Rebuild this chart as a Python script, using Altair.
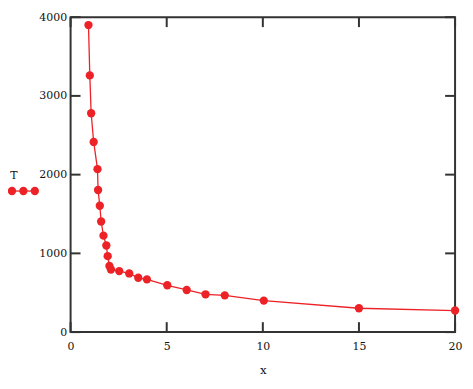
import altair as alt
import pandas as pd

x_vals = [0.93, 1.0, 1.07, 1.2, 1.4, 1.43, 1.52, 1.59, 1.71, 1.86, 1.93, 2.02, 2.1,
          2.53, 3.05, 3.52, 3.97, 5.03, 6.04, 7.02, 8.02, 10.05, 15.0, 20.0]
t_vals = [3900, 3260, 2780, 2415, 2070, 1805, 1605, 1405, 1225, 1100, 965, 840, 795,
          775, 745, 690, 670, 595, 535, 480, 467, 400, 303, 274]
x_ticks = [0, 5, 10, 15, 20]
y_ticks = [0, 1000, 2000, 3000, 4000]

W, H = 387, 317
RED = "#ec2227"
FONT = "DejaVu Serif"
AX = "#333333"

df = pd.DataFrame({"x": x_vals, "T": t_vals})
xt = pd.DataFrame({"v": x_ticks})
yt = pd.DataFrame({"v": y_ticks})

xscale = alt.Scale(domain=[0, 20], nice=False, zero=False)
yscale = alt.Scale(domain=[0, 4000], nice=False)

base = alt.Chart(df)
line = base.mark_line(color=RED, strokeWidth=1.3).encode(
    x=alt.X("x:Q", scale=xscale,
            axis=alt.Axis(values=x_ticks, ticks=False, domain=False, grid=False,
                          format="d", labelPadding=9, labelFlush=False,
                          title="x", titlePadding=13,
                          labelFont=FONT, labelFontSize=11, labelColor="#111",
                          titleFont=FONT, titleFontSize=12, titleFontWeight="normal",
                          titleColor="#111")),
    y=alt.Y("T:Q", scale=yscale,
            axis=alt.Axis(values=y_ticks, ticks=False, domain=False, grid=False,
                          format="d", labelPadding=4, labelFlush=False, title=None,
                          labelFont=FONT, labelFontSize=11, labelColor="#111")),
)
pts = base.mark_circle(color=RED, size=70, opacity=1).encode(x="x:Q", y="T:Q")

xb = alt.Chart(xt).mark_rule(color=AX, strokeWidth=2).encode(
    x=alt.X("v:Q", scale=xscale), y=alt.value(H), y2=alt.value(H - 10))
xtop = alt.Chart(xt).mark_rule(color=AX, strokeWidth=2).encode(
    x=alt.X("v:Q", scale=xscale), y=alt.value(0), y2=alt.value(10))
yl = alt.Chart(yt).mark_rule(color=AX, strokeWidth=2).encode(
    y=alt.Y("v:Q", scale=yscale), x=alt.value(0), x2=alt.value(10))
yr = alt.Chart(yt).mark_rule(color=AX, strokeWidth=2).encode(
    y=alt.Y("v:Q", scale=yscale), x=alt.value(W), x2=alt.value(W - 10))

one = pd.DataFrame({"t": ["T"]})
leg_text = alt.Chart(one).mark_text(
    font=FONT, fontSize=11, color="#111", align="center", baseline="middle"
).encode(text="t:N", x=alt.value(-57), y=alt.value(160))
leg_line = alt.Chart(one).mark_rule(color=RED, strokeWidth=1.3).encode(
    x=alt.value(-59), x2=alt.value(-36), y=alt.value(175))
leg_pts = [
    alt.Chart(one).mark_circle(color=RED, size=70, opacity=1).encode(
        x=alt.value(px), y=alt.value(175))
    for px in (-59, -47.5, -36)
]

chart = alt.layer(line, pts, xb, xtop, yl, yr, leg_text, leg_line, *leg_pts).properties(
    width=W, height=H,
    autosize=alt.AutoSizeParams(type="none"),
    padding={"left": 63, "top": 8, "right": 10, "bottom": 50},
    background="white",
).configure_view(stroke=AX, strokeWidth=2)

chart.save("out.html", embed_options={"renderer": "svg", "actions": False})
